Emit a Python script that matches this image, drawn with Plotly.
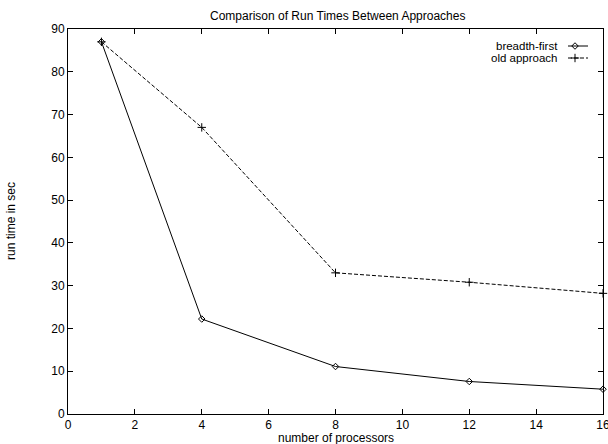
import plotly.graph_objects as go

processors = [1, 4, 8, 12, 16]
breadth_first = [87, 22.2, 11.1, 7.6, 5.8]
old_approach = [87, 67, 33, 30.8, 28.2]
series_names = ["breadth-first", "old approach"]
x_ticks = list(range(0, 17, 2))
y_ticks = list(range(0, 91, 10))

W, H = 608, 444
L, R, T, B = 68, 5, 29, 30
pw, ph = W - L - R, H - T - B

def px(p):
    return (p - L) / pw

def py(p):
    return (H - B - p) / ph

FONT = "Liberation Sans, Arial, Helvetica, sans-serif"
FS = 12
fig = go.Figure()

fig.add_trace(go.Scatter(
    x=processors, y=breadth_first, mode="lines+markers", name=series_names[0],
    line=dict(color="black", width=1),
    marker=dict(symbol="diamond-open", size=5, color="black", line=dict(width=1)),
    showlegend=False, cliponaxis=False))
fig.add_trace(go.Scatter(
    x=processors, y=old_approach, mode="lines+markers", name=series_names[1],
    line=dict(color="black", width=1, dash="4px,2px"),
    marker=dict(symbol="cross-thin-open", size=6, color="black", line=dict(width=1, color="black")),
    showlegend=False, cliponaxis=False))

# legend samples on an overlay axis in pixel-like units
legend_rows = [(46, "solid", "diamond-open"), (58, "4px,2px", "cross-thin-open")]
for (yy, dash, sym), name in zip(legend_rows, series_names):
    fig.add_trace(go.Scatter(
        x=[568, 588], y=[yy, yy], xaxis="x2", yaxis="y2", mode="lines",
        line=dict(color="black", width=1, dash=dash), showlegend=False, hoverinfo="skip"))
    fig.add_trace(go.Scatter(
        x=[575], y=[yy], xaxis="x2", yaxis="y2", mode="markers",
        marker=dict(symbol=sym, size=5 if sym.startswith("diamond") else 6, color="black",
                    line=dict(width=1, color="black")),
        showlegend=False, hoverinfo="skip"))
    fig.add_annotation(x=560, y=yy, xref="x2", yref="y2", text=name, showarrow=False,
                       xanchor="right", yanchor="middle", font=dict(size=11.5, color="black", family=FONT))

axis_common = dict(showgrid=False, zeroline=False, showline=True, linecolor="black", linewidth=1,
                   mirror="ticks", ticks="inside", ticklen=5, tickcolor="black", tickwidth=1,
                   ticklabeloverflow="allow",
                   tickfont=dict(size=FS, color="black", family=FONT))
fig.update_layout(
    width=W, height=H, margin=dict(l=L, r=R, t=T, b=B),
    paper_bgcolor="white", plot_bgcolor="white",
    xaxis=dict(range=[0, 16], tickvals=x_ticks, automargin=False, **axis_common),
    yaxis=dict(range=[0, 90], tickvals=y_ticks, automargin=False, **axis_common),
    xaxis2=dict(range=[L, W - R], overlaying="x", visible=False, fixedrange=True),
    yaxis2=dict(range=[H - B, T], overlaying="y", visible=False, fixedrange=True),
    showlegend=False,
    font=dict(family=FONT, color="black", size=FS),
)

fig.add_annotation(x=px(337), y=py(16), xref="paper", yref="paper", showarrow=False,
                   text="Comparison of Run Times Between Approaches", xanchor="center", yanchor="middle",
                   font=dict(size=FS, family=FONT, color="black"))
fig.add_annotation(x=px(335.5), y=py(437.5), xref="paper", yref="paper", showarrow=False,
                   text="number of processors", xanchor="center", yanchor="middle",
                   font=dict(size=FS, family=FONT, color="black"))
fig.add_annotation(x=px(11), y=py(221), xref="paper", yref="paper", showarrow=False,
                   text="run time in sec", textangle=-90, xanchor="center", yanchor="middle",
                   font=dict(size=FS, family=FONT, color="black"))

fig.write_html("out.html", config={"displayModeBar": False},
               post_script="document.body.style.margin='0';document.body.style.padding='0';document.body.style.overflow='hidden';")
